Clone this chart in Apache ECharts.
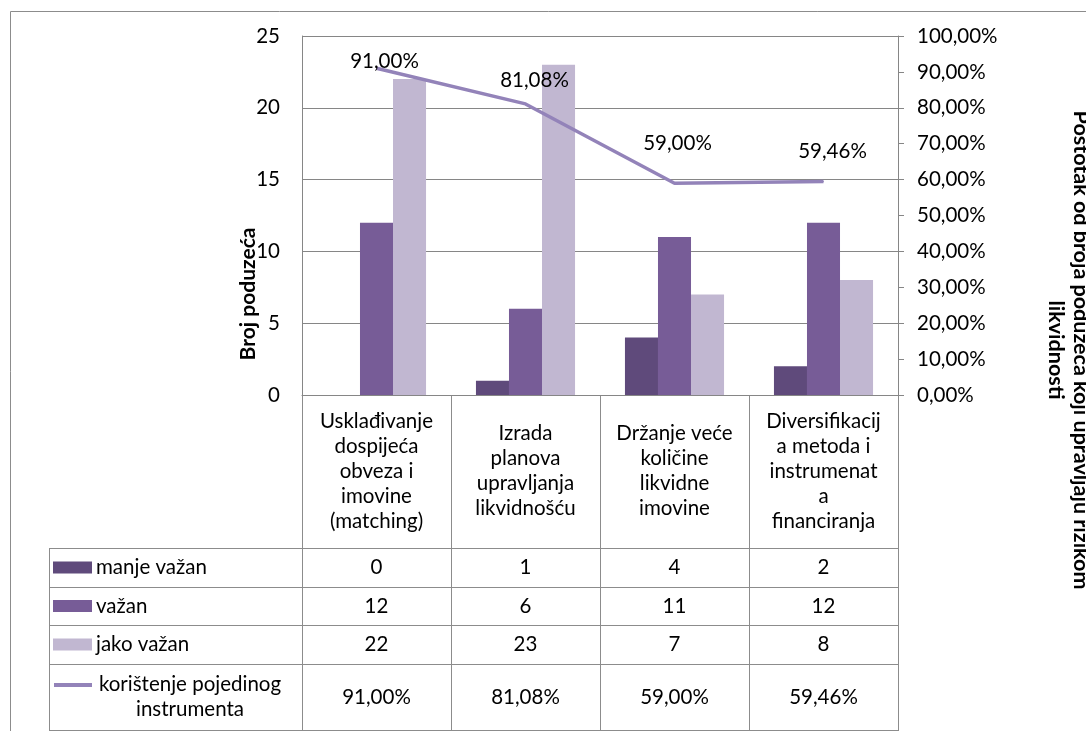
<!DOCTYPE html>
<html>
<head>
<meta charset="utf-8">
<script src="https://cdn.jsdelivr.net/npm/echarts@6/dist/echarts.min.js"></script>
<style>
  html, body { margin: 0; padding: 0; background: #fff; }
  #main { width: 1086px; height: 731px; }
</style>
</head>
<body>
<div id="main"></div>
<script>
var categories = [
  'Usklađivanje\ndospijeća\nobveza i\nimovine\n(matching)',
  'Izrada\nplanova\nupravljanja\nlikvidnošću',
  'Držanje veće\nkoličine\nlikvidne\nimovine',
  'Diversifikacij\na metoda i\ninstrumenat\na\nfinanciranja'
]
var manjeVazan = [0, 1, 4, 2]
var vazan = [12, 6, 11, 12]
var jakoVazan = [22, 23, 7, 8]
var koristenje = [91.00, 81.08, 59.00, 59.46]
var seriesNames = ['manje važan', 'važan', 'jako važan', 'korištenje pojedinog\ninstrumenta']

var FONT = 'Lato'
var FS = 20.5
var colors = ['#5f4a7b', '#775c97', '#c1b7d1', '#9383b9']
var gridBox = { left: 302, right: 898, top: 36, bottom: 395 }
var rowLines = [548, 587, 625, 664, 730]
var tableLeft = 49

function pct (v) {
  return v.toFixed(2).replace('.', ',') + '%'
}

var myChart = echarts.init(document.getElementById('main'))

// pomak oznaka linije (kao u Excelu)
var labelShift = [[8, -7], [9, -24], [3, -40], [9, -30]]

myChart.setOption({
  animation: false,
  textStyle: { fontFamily: FONT },
  grid: {
    left: gridBox.left,
    right: 1086 - gridBox.right,
    top: gridBox.top,
    bottom: 731 - gridBox.bottom
  },
  xAxis: {
    type: 'category',
    data: categories,
    axisLine: { lineStyle: { color: '#868686' } },
    axisTick: { show: false },
    axisLabel: {
      interval: 0,
      margin: 76,
      verticalAlign: 'middle',
      fontFamily: FONT,
      fontSize: FS,
      lineHeight: 25,
      color: '#000'
    }
  },
  yAxis: [
    {
      type: 'value',
      min: 0,
      max: 25,
      interval: 5,
      axisLine: { show: true, lineStyle: { color: '#868686' } },
      axisTick: { show: false },
      axisLabel: { margin: 22, fontFamily: FONT, fontSize: FS, color: '#000' },
      splitLine: { lineStyle: { color: '#868686' } }
    },
    {
      type: 'value',
      min: 0,
      max: 100,
      interval: 10,
      position: 'right',
      axisLine: { show: true, lineStyle: { color: '#868686' } },
      axisTick: { show: true, length: 6, lineStyle: { color: '#868686' } },
      axisLabel: {
        margin: 19,
        fontFamily: FONT,
        fontSize: FS,
        color: '#000',
        formatter: function (v) { return pct(v) }
      },
      splitLine: { show: false }
    }
  ],
  series: [
    { name: seriesNames[0], type: 'bar', data: manjeVazan, itemStyle: { color: colors[0] }, barGap: '0%', barCategoryGap: '33.5%' },
    { name: seriesNames[1], type: 'bar', data: vazan, itemStyle: { color: colors[1] }, barGap: '0%', barCategoryGap: '33.5%' },
    { name: seriesNames[2], type: 'bar', data: jakoVazan, itemStyle: { color: colors[2] }, barGap: '0%', barCategoryGap: '33.5%' },
    {
      name: seriesNames[3],
      type: 'line',
      yAxisIndex: 1,
      symbol: 'circle',
      symbolSize: 1,
      lineStyle: { color: colors[3], width: 3.5 },
      itemStyle: { color: colors[3] },
      data: koristenje.map(function (v, i) {
        return { value: v, label: { offset: labelShift[i] } }
      }),
      label: {
        show: true,
        position: 'inside',
        fontFamily: FONT,
        fontSize: FS,
        color: '#000',
        formatter: function (p) { return pct(p.value) }
      },
      z: 5
    }
  ]
})

// tablica podataka ispod grafa
function buildTable () {
  var g = []
  var lineStyle = { stroke: '#8c8c8c', lineWidth: 1 }
  var w = (gridBox.right - gridBox.left) / categories.length
  var font = FS + 'px ' + FONT
  // okvir
  g.push({ type: 'rect', shape: { x: 10.5, y: 11.5, width: 1300, height: 900 }, style: { fill: null, stroke: '#8c8c8c', lineWidth: 1 }, silent: true })
  for (var i = 0; i <= categories.length; i++) {
    var x = Math.round(gridBox.left + i * w) + 0.5
    g.push({ type: 'line', shape: { x1: x, y1: gridBox.bottom, x2: x, y2: rowLines[rowLines.length - 1] }, style: lineStyle })
  }
  g.push({ type: 'line', shape: { x1: tableLeft + 0.5, y1: rowLines[0], x2: tableLeft + 0.5, y2: rowLines[rowLines.length - 1] }, style: lineStyle })
  rowLines.forEach(function (y) {
    g.push({ type: 'line', shape: { x1: tableLeft, y1: y + 0.5, x2: gridBox.right + 1, y2: y + 0.5 }, style: lineStyle })
  })
  var rows = [manjeVazan, vazan, jakoVazan, koristenje]
  rows.forEach(function (arr, r) {
    var cy = (rowLines[r] + rowLines[r + 1]) / 2
    // legenda
    if (r < 3) {
      g.push({ type: 'rect', shape: { x: 53, y: cy - 6, width: 39, height: 12 }, style: { fill: colors[r] } })
      g.push({ type: 'text', x: 96, y: cy, style: { text: seriesNames[r], font: font, fill: '#000', verticalAlign: 'middle', align: 'left' } })
    } else {
      g.push({ type: 'line', shape: { x1: 54, y1: cy - 12, x2: 92, y2: cy - 12 }, style: { stroke: colors[3], lineWidth: 4 } })
      g.push({ type: 'text', x: 190, y: cy, style: { text: seriesNames[r], font: font, fill: '#000', verticalAlign: 'middle', align: 'center', lineHeight: 25 } })
    }
    arr.forEach(function (v, c) {
      var px = myChart.convertToPixel({ xAxisIndex: 0 }, c)
      g.push({ type: 'text', x: px, y: cy, style: { text: r === 3 ? pct(v) : String(v), font: font, fill: '#000', verticalAlign: 'middle', align: 'center' } })
    })
  })
  // nazivi osi
  g.push({ type: 'text', x: 248, y: 294, rotation: Math.PI / 2, style: { text: 'Broj poduzeća', font: 'bold 21px ' + FONT, fill: '#000', align: 'center', verticalAlign: 'middle' } })
  g.push({ type: 'text', x: 1068, y: 350, rotation: -Math.PI / 2, style: { text: 'Postotak od broja poduzeća koji upravljaju rizikom\nlikvidnosti', font: 'bold 21.5px ' + FONT, fill: '#000', align: 'center', verticalAlign: 'middle', lineHeight: 25 } })
  myChart.setOption({ graphic: g })
}
buildTable()
</script>
</body>
</html>
